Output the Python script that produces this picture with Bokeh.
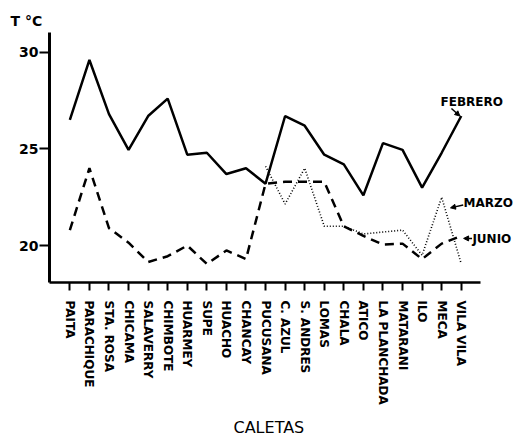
import math
from bokeh.plotting import figure
from bokeh.models import (Range1d, FixedTicker, Label, Arrow, NormalHead, Title)
from bokeh.embed import file_html
from bokeh.resources import INLINE

caletas = ["PAITA", "PARACHIQUE", "STA. ROSA", "CHICAMA", "SALAVERRY", "CHIMBOTE",
           "HUARMEY", "SUPE", "HUACHO", "CHANCAY", "PUCUSANA", "C. AZUL", "S. ANDRES",
           "LOMAS", "CHALA", "ATICO", "LA PLANCHADA", "MATARANI", "ILO", "MECA", "VILA VILA"]

febrero = [26.5, 29.6, 26.8, 24.95, 26.7, 27.6, 24.7, 24.8, 23.7, 24.0,
           23.2, 26.7, 26.2, 24.7, 24.2, 22.6, 25.3, 24.95, 23.0, 24.8, 26.7]
junio = [20.8, 24.0, 20.9, 20.15, 19.15, 19.45, 20.0, 19.05, 19.75, 19.3,
         23.2, 23.3, 23.3, 23.3, 21.0, 20.5, 20.05, 20.1, 19.3, 20.1, 20.5]
marzo_caletas = caletas[10:]
marzo = [24.1, 22.15, 24.0, 21.0, 21.0, 20.6, 20.7, 20.8, 19.5, 22.5, 19.05]

y_ticks = [20, 25, 30]

FONT = "DejaVu Sans"

xs = list(range(len(caletas)))
mx = [caletas.index(c) for c in marzo_caletas]

X0, X1 = -1.04, 20.99      # extent of the drawn x axis
Y0, Y1 = 18.09, 31.02      # extent of the drawn y axis

p = figure(width=515, height=446, output_backend="svg", toolbar_location=None,
           x_range=Range1d(X0, X0 + 466 / 19.57), y_range=Range1d(Y0, Y1),
           min_border_left=49, min_border_right=0, min_border_top=32, min_border_bottom=164)
p.outline_line_color = None
p.xgrid.visible = False
p.ygrid.visible = False
p.background_fill_color = "white"
p.border_fill_color = "white"

p.title.text = "T °C"
p.title.align = "left"
p.title.offset = -39
p.title.text_font = FONT
p.title.text_font_size = "14px"
p.title.text_font_style = "bold"
p.title.text_color = "black"
p.title.standoff = 8

p.add_layout(Title(text="CALETAS", align="left", offset=184, text_font=FONT,
                   text_font_size="16px", text_font_style="normal", text_color="black",
                   standoff=17), "below")

p.line(xs, febrero, line_color="black", line_width=2.5)
p.line(xs, junio, line_color="black", line_width=2.5, line_dash="9 6")
p.line(mx, marzo, line_color="black", line_width=1.6, line_dash="1 2")

# axes
xa = p.xaxis[0]
xa.bounds = (X0, X1)
xa.ticker = FixedTicker(ticks=xs)
xa.major_label_overrides = {i: c for i, c in enumerate(caletas)}
xa.major_label_orientation = -math.pi / 2
xa.minor_tick_line_color = None
xa.major_tick_in = 0
xa.major_tick_out = 8
xa.major_tick_line_width = 2
xa.axis_line_width = 2.5
xa.major_label_standoff = 10
xa.major_label_text_font = FONT
xa.major_label_text_font_style = "bold"
xa.major_label_text_font_size = "12px"
xa.major_label_text_color = "black"

ya = p.yaxis[0]
ya.bounds = (Y0, Y1)
ya.ticker = FixedTicker(ticks=y_ticks)
ya.minor_tick_line_color = None
ya.major_tick_in = 0
ya.major_tick_out = 10
ya.major_tick_line_width = 2
ya.axis_line_width = 3
ya.major_label_standoff = 1
ya.major_label_text_font = FONT
ya.major_label_text_font_style = "bold"
ya.major_label_text_font_size = "14px"
ya.major_label_text_color = "black"

def lab(x, y, t):
    p.add_layout(Label(x=x, y=y, text=t, text_font=FONT, text_font_size="12px",
                       text_font_style="bold", text_align="left", text_baseline="middle",
                       text_color="black"))

lab(18.94, 27.42, "FEBRERO")
lab(20.12, 22.18, "MARZO")
lab(20.57, 20.32, "JUNIO")

def arr(x0, y0, x1, y1):
    p.add_layout(Arrow(x_start=x0, y_start=y0, x_end=x1, y_end=y1, line_width=1.5,
                       line_color="black",
                       end=NormalHead(size=5, fill_color="black", line_color="black")))

arr(19.5, 27.09, 19.93, 26.7)
arr(20.1, 22.1, 19.45, 21.95)
arr(20.55, 20.37, 20.12, 20.37)

open("out.html", "w").write(file_html(p, INLINE))
